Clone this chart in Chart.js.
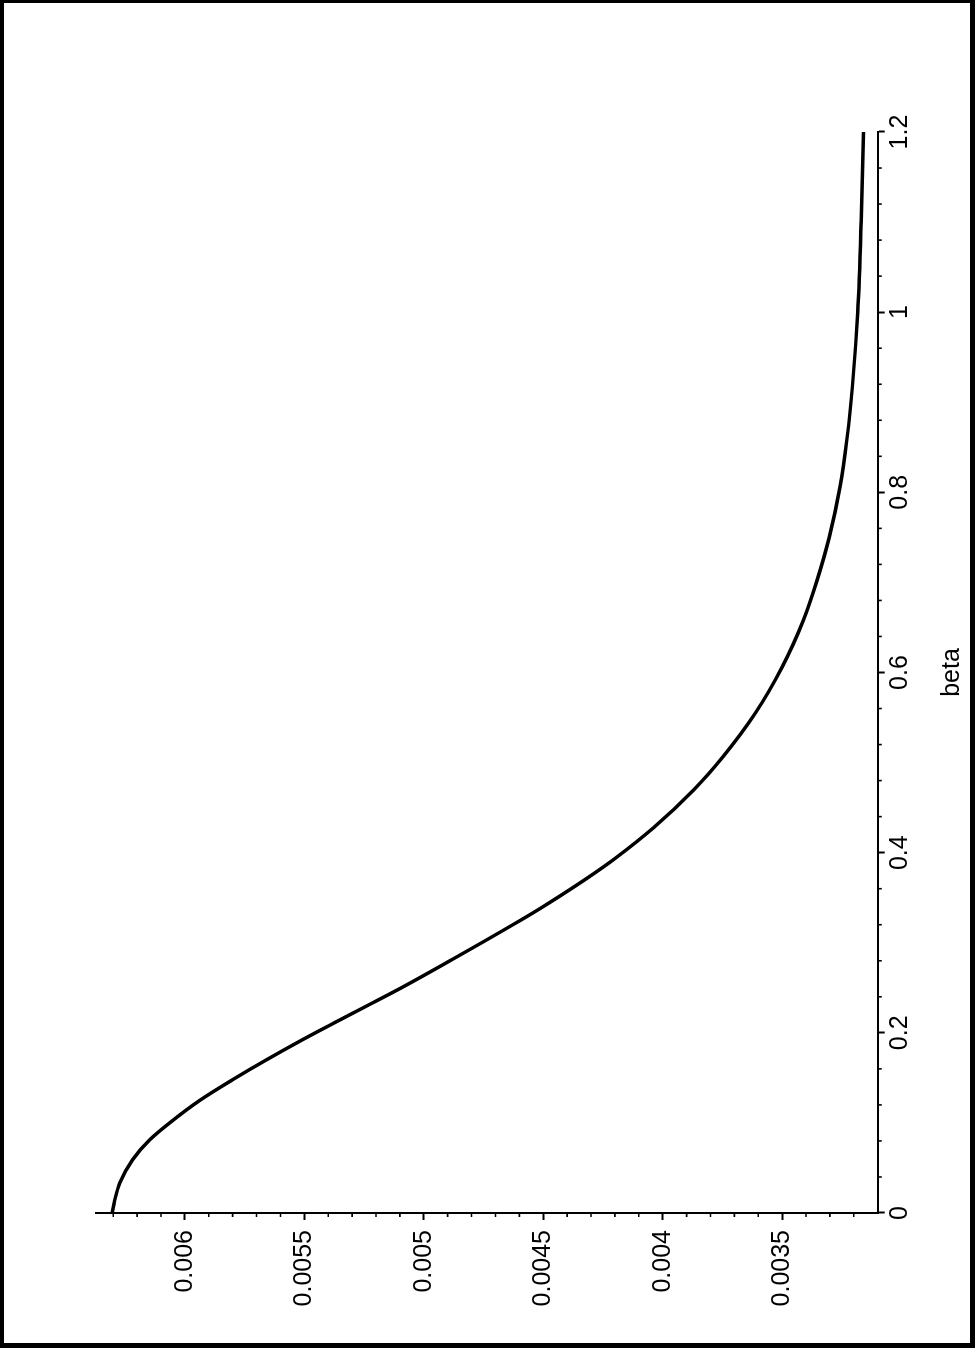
<!DOCTYPE html>
<html>
<head>
<meta charset="utf-8">
<script src="https://cdn.jsdelivr.net/npm/chart.js@4.4.1/dist/chart.umd.min.js"></script>
<style>
  html, body { margin: 0; padding: 0; background: #fff; overflow: hidden; }
  body { width: 975px; height: 1348px; position: relative; }
  #rot {
    position: absolute; left: 0; top: 0;
    width: 1348px; height: 975px;
    transform-origin: 0 0;
    transform: translateY(1348px) rotate(-90deg);
  }
  #frame {
    position: absolute; left: 0; top: 0;
    width: 975px; height: 1348px; box-sizing: border-box;
    border-style: solid; border-color: #000;
    border-width: 3px 5px 5px 4px;
    pointer-events: none;
  }
</style>
</head>
<body>
<div id="rot"><canvas id="c" width="1348" height="975"></canvas></div>
<div id="frame"></div>
<script>
// ---- data ----
const beta = [0, 0.014, 0.033, 0.059, 0.081, 0.100, 0.125, 0.148, 0.170, 0.192, 0.211, 0.229, 0.250,
              0.281, 0.325, 0.344, 0.375, 0.395, 0.428, 0.470, 0.506, 0.555, 0.606, 0.658, 0.703,
              0.750, 0.806, 0.861, 0.917, 1.000, 1.102, 1.200];
const value = [0.006304, 0.006294, 0.006273, 0.006219, 0.006148, 0.006064, 0.005938, 0.005800, 0.005659,
               0.005510, 0.005375, 0.005245, 0.005094, 0.004884, 0.004595, 0.004477, 0.004298, 0.004192,
               0.004037, 0.003869, 0.003749, 0.003612, 0.003500, 0.003411, 0.003353, 0.003303, 0.003258,
               0.003228, 0.003206, 0.003184, 0.003169, 0.003159];

const betaTicks = [0, 0.2, 0.4, 0.6, 0.8, 1, 1.2];
const betaTickLabels = ["0", "0.2", "0.4", "0.6", "0.8", "1", "1.2"];
const valueTicks = [0.0035, 0.004, 0.0045, 0.005, 0.0055, 0.006];
const valueTickLabels = ["0.0035", "0.004", "0.0045", "0.005", "0.0055", "0.006"];
const betaMinorStep = 0.04;
const valueMinorStep = 0.0001;

const FONT = { family: "'Liberation Sans', Arial, Helvetica, sans-serif", size: 25 };

const minorTicks = {
  id: 'minorTicks',
  afterDraw(chart) {
    const ctx = chart.ctx, xs = chart.scales.x, ys = chart.scales.y;
    const area = chart.chartArea;
    ctx.save();
    ctx.strokeStyle = '#000';
    ctx.lineWidth = 1.6;
    ctx.beginPath();
    for (let i = 1; i * betaMinorStep < xs.max + 1e-9; i++) {
      const b = i * betaMinorStep;
      if (Math.abs(b / 0.2 - Math.round(b / 0.2)) < 1e-6) continue;
      const px = xs.getPixelForValue(b);
      ctx.moveTo(px, area.bottom);
      ctx.lineTo(px, area.bottom + 4);
    }
    for (let i = 32; i <= 63; i++) {
      const v = i * valueMinorStep;
      if (i % 5 === 0) continue;
      const py = ys.getPixelForValue(v);
      ctx.moveTo(area.left, py);
      ctx.lineTo(area.left - 4, py);
    }
    ctx.stroke();
    ctx.restore();
  }
};

new Chart(document.getElementById('c'), {
  type: 'line',
  data: {
    datasets: [{
      data: beta.map((b, i) => ({ x: b, y: value[i] })),
      borderColor: '#000',
      borderWidth: 3.5,
      pointRadius: 0,
      fill: false,
      cubicInterpolationMode: 'monotone'
    }]
  },
  options: {
    responsive: false,
    animation: false,
    devicePixelRatio: 1,
    layout: { padding: { left: 0, top: 96, right: 132, bottom: 0 } },
    plugins: { legend: { display: false }, tooltip: { enabled: false } },
    scales: {
      x: {
        type: 'linear', position: 'bottom', min: 0, max: 1.2,
        afterBuildTicks: s => { s.ticks = betaTicks.map(v => ({ value: v })); },
        afterFit: s => { s.height = 97.3; },
        ticks: {
          font: FONT, color: '#000', maxRotation: 0, minRotation: 0, autoSkip: false, padding: 0,
          callback: (v, i) => betaTickLabels[i]
        },
        grid: { drawOnChartArea: false, drawTicks: true, tickLength: 7, tickWidth: 2, tickColor: '#000' },
        border: { display: true, color: '#000', width: 2 },
        title: { display: true, text: 'beta', font: FONT, color: '#000', padding: { top: 0, bottom: 8 } }
      },
      y: {
        type: 'linear', position: 'left', min: 0.0031, max: 0.006372,
        afterBuildTicks: s => { s.ticks = valueTicks.map(v => ({ value: v })); },
        afterFit: s => { s.width = 135; },
        ticks: {
          font: FONT, color: '#000', autoSkip: false, padding: 10,
          callback: (v, i) => valueTickLabels[i]
        },
        grid: { drawOnChartArea: false, drawTicks: true, tickLength: 7, tickWidth: 2, tickColor: '#000' },
        border: { display: true, color: '#000', width: 2 }
      }
    }
  },
  plugins: [minorTicks]
});
</script>
</body>
</html>
